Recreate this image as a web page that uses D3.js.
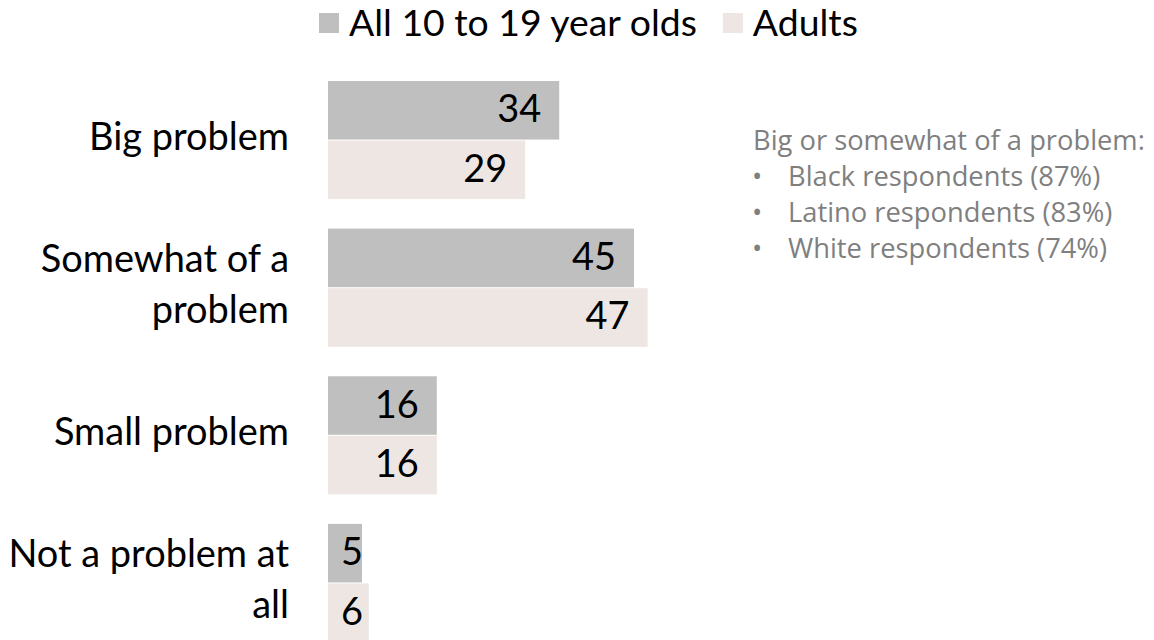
<!DOCTYPE html>
<html>
<head>
<meta charset="utf-8">
<script src="https://cdn.jsdelivr.net/npm/d3@7"></script>
<style>
  html, body { margin: 0; padding: 0; background: #fff; }
  svg { display: block; }
</style>
</head>
<body>
<svg id="chart" width="1154" height="640"></svg>
<script>
// Survey answers: how big a problem is it?
const categories = [
  ["Big problem"],
  ["Somewhat of a", "problem"],
  ["Small problem"],
  ["Not a problem at", "all"]
];
const seriesNames = ["All 10 to 19 year olds", "Adults"];
const youthValues = [34, 45, 16, 5];
const adultValues = [29, 47, 16, 6];

const noteTitle = "Big or somewhat of a problem:";
const noteItems = [
  "Black respondents (87%)",
  "Latino respondents (83%)",
  "White respondents (74%)"
];

const colors = ["#bfbfbf", "#ede6e3"];
const mainFont = "Lato, 'Open Sans', sans-serif";
const mainWeight = 400;
const noteFont = "'Open Sans', 'Noto Sans', sans-serif";

const svg = d3.select("#chart");

// Pick a font size so that a sample string spans a given width.
function fitSize(text, family, weight, width) {
  const t = svg.append("text").attr("font-family", family)
    .attr("font-weight", weight)
    .attr("font-size", 100).text(text);
  const w = t.node().getComputedTextLength();
  t.remove();
  return 100 * width / w;
}

const labelSize = fitSize("Big problem", mainFont, mainWeight, 200);
const legendSize = fitSize(seriesNames[0], mainFont, mainWeight, 348);
const noteSize = fitSize(noteTitle, noteFont, 400, 392);

const catKeys = categories.map(c => c.join(" "));
const data = catKeys.map((k, i) => ({
  key: k,
  lines: categories[i],
  values: [youthValues[i], adultValues[i]]
}));

const y = d3.scaleBand()
  .domain(catKeys)
  .range([81, 642])
  .paddingInner(0.2)
  .paddingOuter(0);

const ySub = d3.scaleBand()
  .domain(seriesNames)
  .range([0, y.bandwidth()])
  .paddingInner(0.017);

const x = d3.scaleLinear().domain([0, 50]).range([328, 668]);

// Bars and in-bar value labels
const groups = svg.append("g").selectAll("g")
  .data(data).join("g")
  .attr("transform", d => `translate(0,${y(d.key)})`);

groups.selectAll("rect")
  .data(d => d.values.map((v, j) => ({ v, s: seriesNames[j], j })))
  .join("rect")
  .attr("x", x(0))
  .attr("y", d => ySub(d.s))
  .attr("width", d => x(d.v) - x(0))
  .attr("height", ySub.bandwidth())
  .attr("fill", d => colors[d.j]);

groups.selectAll("text.val")
  .data(d => d.values.map((v, j) => ({ v, s: seriesNames[j], j })))
  .join("text")
  .attr("class", "val")
  .attr("x", d => Math.max(x(d.v) - 18, x(0) + 35))
  .attr("y", d => ySub(d.s) + ySub.bandwidth() / 2 + 12)
  .attr("text-anchor", "end")
  .attr("font-family", mainFont)
  .attr("font-weight", mainWeight)
  .attr("font-size", labelSize)
  .attr("fill", "#000")
  .text(d => d.v);

// Category labels, right aligned left of the bars
const catLabels = svg.append("g").selectAll("text")
  .data(data).join("text")
  .attr("text-anchor", "end")
  .attr("font-family", mainFont)
  .attr("font-weight", mainWeight)
  .attr("font-size", labelSize)
  .attr("fill", "#000");

catLabels.each(function(d) {
  const c = y(d.key) + y.bandwidth() / 2;
  const sel = d3.select(this);
  if (d.lines.length === 1) {
    sel.append("tspan").attr("x", 289).attr("y", c + 10).text(d.lines[0]);
  } else {
    d.lines.forEach((ln, i) => {
      sel.append("tspan").attr("x", 289).attr("y", c - 16 + i * 51).text(ln);
    });
  }
});

// Legend
const legend = svg.append("g");
let lx = 319;
seriesNames.forEach((name, i) => {
  legend.append("rect")
    .attr("x", lx).attr("y", 13)
    .attr("width", 20).attr("height", 20)
    .attr("fill", colors[i]);
  const t = legend.append("text")
    .attr("x", lx + 30).attr("y", 36)
    .attr("font-family", mainFont)
    .attr("font-weight", mainWeight)
    .attr("font-size", legendSize)
    .attr("fill", "#000")
    .text(name);
  lx = lx + 30 + t.node().getComputedTextLength() + 26;
});

// Side note
const note = svg.append("g")
  .attr("font-family", noteFont)
  .attr("font-size", noteSize)
  .attr("fill", "#7f7f7f");

note.append("text").attr("x", 753).attr("y", 150).text(noteTitle);
note.selectAll("text.item")
  .data(noteItems).join("text")
  .attr("class", "item")
  .attr("y", (d, i) => 186 + i * 36)
  .each(function(d) {
    const s = d3.select(this);
    s.append("tspan").attr("x", 752).text("\u2022");
    s.append("tspan").attr("x", 788).text(d);
  });
</script>
</body>
</html>
